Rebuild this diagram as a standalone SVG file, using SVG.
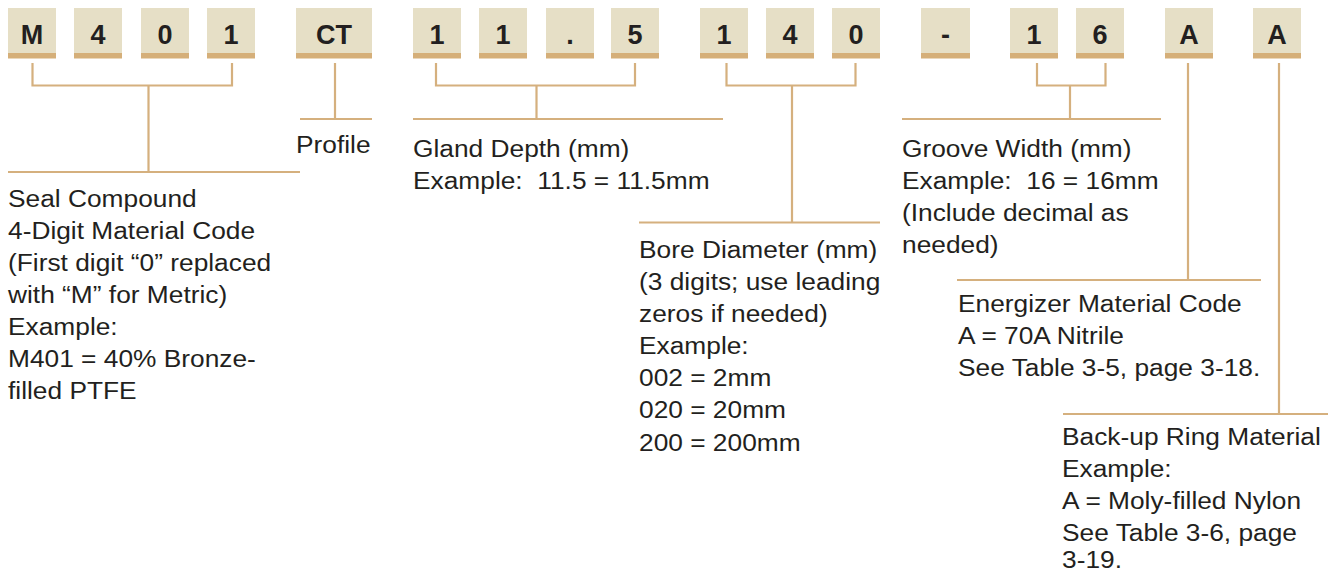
<svg xmlns="http://www.w3.org/2000/svg" width="1337" height="574" viewBox="0 0 1337 574">
<style>
.box{fill:#e6dfc6}
.stripe{fill:#d5af79}
.code{font-family:"Liberation Sans",Arial,sans-serif;font-weight:bold;font-size:27px;fill:#231f20;text-anchor:middle}
.lbl{font-family:"Liberation Sans",Arial,sans-serif;font-size:23.5px;fill:#231f20}
.con{fill:none;stroke:#d5b07e;stroke-width:2.2}
</style>
<rect width="1337" height="574" fill="#ffffff"/>
<g id="boxes">
<g id="b-M"><rect class="box" x="8" y="8" width="48" height="46"/><rect class="stripe" x="8" y="53" width="48" height="5.5"/><text class="code" x="32" y="44">M</text></g>
<g id="b-4"><rect class="box" x="74" y="8" width="48" height="46"/><rect class="stripe" x="74" y="53" width="48" height="5.5"/><text class="code" x="98" y="44">4</text></g>
<g id="b-0"><rect class="box" x="141" y="8" width="48" height="46"/><rect class="stripe" x="141" y="53" width="48" height="5.5"/><text class="code" x="165" y="44">0</text></g>
<g id="b-1"><rect class="box" x="207" y="8" width="48" height="46"/><rect class="stripe" x="207" y="53" width="48" height="5.5"/><text class="code" x="231" y="44">1</text></g>
<g id="b-CT"><rect class="box" x="296" y="8" width="76" height="46"/><rect class="stripe" x="296" y="53" width="76" height="5.5"/><text class="code" x="334" y="44">CT</text></g>
<g id="b-g1"><rect class="box" x="413" y="8" width="48" height="46"/><rect class="stripe" x="413" y="53" width="48" height="5.5"/><text class="code" x="437" y="44">1</text></g>
<g id="b-g2"><rect class="box" x="479" y="8" width="48" height="46"/><rect class="stripe" x="479" y="53" width="48" height="5.5"/><text class="code" x="503" y="44">1</text></g>
<g id="b-dot"><rect class="box" x="546" y="8" width="48" height="46"/><rect class="stripe" x="546" y="53" width="48" height="5.5"/><text class="code" x="570" y="44">.</text></g>
<g id="b-5"><rect class="box" x="611" y="8" width="48" height="46"/><rect class="stripe" x="611" y="53" width="48" height="5.5"/><text class="code" x="635" y="44">5</text></g>
<g id="b-d1"><rect class="box" x="700" y="8" width="48" height="46"/><rect class="stripe" x="700" y="53" width="48" height="5.5"/><text class="code" x="724" y="44">1</text></g>
<g id="b-d4"><rect class="box" x="766" y="8" width="48" height="46"/><rect class="stripe" x="766" y="53" width="48" height="5.5"/><text class="code" x="790" y="44">4</text></g>
<g id="b-d0"><rect class="box" x="832" y="8" width="48" height="46"/><rect class="stripe" x="832" y="53" width="48" height="5.5"/><text class="code" x="856" y="44">0</text></g>
<g id="b-dash"><rect class="box" x="921" y="8" width="49" height="46"/><rect class="stripe" x="921" y="53" width="49" height="5.5"/><text class="code" x="945.5" y="44">-</text></g>
<g id="b-w1"><rect class="box" x="1010" y="8" width="48" height="46"/><rect class="stripe" x="1010" y="53" width="48" height="5.5"/><text class="code" x="1034" y="44">1</text></g>
<g id="b-w6"><rect class="box" x="1076" y="8" width="48" height="46"/><rect class="stripe" x="1076" y="53" width="48" height="5.5"/><text class="code" x="1100" y="44">6</text></g>
<g id="b-A1"><rect class="box" x="1165" y="8" width="48" height="46"/><rect class="stripe" x="1165" y="53" width="48" height="5.5"/><text class="code" x="1189" y="44">A</text></g>
<g id="b-A2"><rect class="box" x="1253" y="8" width="48" height="46"/><rect class="stripe" x="1253" y="53" width="48" height="5.5"/><text class="code" x="1277" y="44">A</text></g>
</g>
<g id="connectors">
<path class="con" d="M32.5,63 V85.5 H232 V63 M148.5,85.5 V172 M8,172 H300"/>
<path class="con" d="M335,63 V119 M300,119 H372"/>
<path class="con" d="M436,63 V85.5 H635 V63 M536.5,85.5 V119 M413,119 H723"/>
<path class="con" d="M726.5,63 V85.5 H855.5 V63 M792,85.5 V222.5 M639,222.5 H880"/>
<path class="con" d="M1037,63 V85.5 H1105.5 V63 M1070,85.5 V119 M902,119 H1161"/>
<path class="con" d="M1188,63 V280 M957,280 H1261"/>
<path class="con" d="M1279,63 V414 M1063,414 H1328"/>
</g>
<g id="label-seal" transform="translate(8 0) scale(1.12 1)">
<text class="lbl"><tspan x="0" y="207">Seal Compound</tspan><tspan x="0" y="239">4-Digit Material Code</tspan><tspan x="0" y="271">(First digit “0” replaced</tspan><tspan x="0" y="303">with “M” for Metric)</tspan><tspan x="0" y="335">Example:</tspan><tspan x="0" y="367">M401 = 40% Bronze-</tspan><tspan x="0" y="399">filled PTFE</tspan></text>
</g>
<g id="label-profile" transform="translate(296 0) scale(1.12 1)">
<text class="lbl"><tspan x="0" y="153">Profile</tspan></text>
</g>
<g id="label-gland" transform="translate(413 0) scale(1.12 1)">
<text class="lbl"><tspan x="0" y="157">Gland Depth (mm)</tspan><tspan x="0" y="189">Example:&#160; 11.5 = 11.5mm</tspan></text>
</g>
<g id="label-bore" transform="translate(639 0) scale(1.12 1)">
<text class="lbl"><tspan x="0" y="258">Bore Diameter (mm)</tspan><tspan x="0" y="290">(3 digits; use leading</tspan><tspan x="0" y="322">zeros if needed)</tspan><tspan x="0" y="354">Example:</tspan><tspan x="0" y="386">002 = 2mm</tspan><tspan x="0" y="418">020 = 20mm</tspan><tspan x="0" y="451">200 = 200mm</tspan></text>
</g>
<g id="label-groove" transform="translate(902 0) scale(1.12 1)">
<text class="lbl"><tspan x="0" y="157">Groove Width (mm)</tspan><tspan x="0" y="189">Example:&#160; 16 = 16mm</tspan><tspan x="0" y="221">(Include decimal as</tspan><tspan x="0" y="253">needed)</tspan></text>
</g>
<g id="label-energizer" transform="translate(958 0) scale(1.12 1)">
<text class="lbl"><tspan x="0" y="312">Energizer Material Code</tspan><tspan x="0" y="344">A = 70A Nitrile</tspan><tspan x="0" y="376">See Table 3-5, page 3-18.</tspan></text>
</g>
<g id="label-backup" transform="translate(1062 0) scale(1.12 1)">
<text class="lbl"><tspan x="0" y="445">Back-up Ring Material</tspan><tspan x="0" y="477">Example:</tspan><tspan x="0" y="509">A = Moly-filled Nylon</tspan><tspan x="0" y="541">See Table 3-6, page</tspan><tspan x="0" y="568">3-19.</tspan></text>
</g>
</svg>
